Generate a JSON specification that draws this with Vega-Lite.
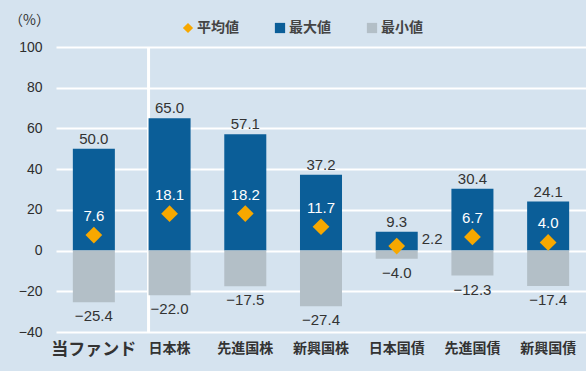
{
  "$schema": "https://vega.github.io/schema/vega-lite/v6.json",
  "width": 530,
  "height": 285,
  "autosize": {"type": "none"},
  "padding": {"left": 56, "top": 47, "right": 0, "bottom": 39},
  "background": "#d5e3ef",
  "config": {
    "view": {"stroke": null},
    "text": {"font": "Liberation Sans", "fontSize": 15}
  },
  "data": {
    "values": [
      {"cat": "当ファンド", "max": 50.0, "min": -25.4, "avg": 7.6},
      {"cat": "日本株", "max": 65.0, "min": -22.0, "avg": 18.1},
      {"cat": "先進国株", "max": 57.1, "min": -17.5, "avg": 18.2},
      {"cat": "新興国株", "max": 37.2, "min": -27.4, "avg": 11.7},
      {"cat": "日本国債", "max": 9.3, "min": -4.0, "avg": 2.2},
      {"cat": "先進国債", "max": 30.4, "min": -12.3, "avg": 6.7},
      {"cat": "新興国債", "max": 24.1, "min": -17.4, "avg": 4.0}
    ]
  },
  "encoding": {
    "x": {
      "field": "cat",
      "type": "nominal",
      "sort": null,
      "scale": {
        "domain": ["当ファンド", "日本株", "先進国株", "新興国株", "日本国債", "先進国債", "新興国債"],
        "paddingInner": 0.445,
        "paddingOuter": 0.2225
      },
      "axis": {
        "title": null,
        "domain": false,
        "ticks": false,
        "labelAngle": 0,
        "labelPadding": 9,
        "labelFont": "Noto Sans CJK JP",
        "labelFontWeight": "bold",
        "labelColor": "#333333",
        "labelFontSize": {"condition": {"test": "datum.value === '当ファンド'", "value": 17}, "value": 14}
      }
    }
  },
  "layer": [
    {
      "transform": [{"filter": "datum.cat === '日本株'"}],
      "mark": {"type": "rule", "color": "white", "strokeWidth": 3},
      "encoding": {
        "x": {"field": "cat", "type": "nominal", "bandPosition": 0},
        "y": {
          "datum": 100,
          "type": "quantitative",
          "scale": {"domain": [-40, 100], "nice": false},
          "axis": {
            "values": [-40, -20, 0, 20, 40, 60, 80, 100],
            "domain": false,
            "ticks": false,
            "grid": true,
            "gridColor": "white",
            "gridWidth": 2,
            "gridOpacity": 1,
            "labelFont": "Liberation Sans",
            "labelFontSize": 14,
            "labelColor": "#2e2e2e",
            "labelPadding": 14,
            "title": "（%）",
            "titleAngle": 0,
            "titleX": -27,
            "titleY": -27,
            "titleAlign": "center",
            "titleBaseline": "middle",
            "titleFont": "Noto Sans CJK JP",
            "titleFontSize": 14,
            "titleFontWeight": "normal",
            "titleColor": "#333333"
          }
        },
        "y2": {"datum": -40}
      }
    },
    {
      "mark": {"type": "bar"},
      "encoding": {
        "y": {"field": "max", "type": "quantitative"},
        "y2": {"datum": 0},
        "color": {
          "datum": "最大値",
          "type": "nominal",
          "scale": {"domain": ["平均値", "最大値", "最小値"], "range": ["#f7a800", "#0b5e98", "#b3bfc7"]},
          "legend": {
            "title": null,
            "orient": "none",
            "legendX": 125,
            "legendY": -26,
            "direction": "horizontal",
            "padding": 0,
            "symbolSize": 105,
            "symbolStrokeWidth": 0,
            "labelFont": "Noto Sans CJK JP",
            "labelFontWeight": "bold",
            "labelFontSize": 14,
            "labelColor": "#444444",
            "labelOffset": 2,
            "columnPadding": 34,
            "encode": {
              "symbols": {"update": {"shape": {"signal": "datum.value === '平均値' ? 'diamond' : 'square'"}}}
            }
          }
        }
      }
    },
    {
      "mark": {"type": "bar"},
      "encoding": {
        "y": {"field": "min", "type": "quantitative"},
        "y2": {"datum": 0},
        "color": {"datum": "最小値", "type": "nominal"}
      }
    },
    {
      "mark": {"type": "rule", "color": "white", "strokeWidth": 2},
      "encoding": {"y": {"datum": 0, "type": "quantitative"}}
    },
    {
      "mark": {"type": "point", "shape": "diamond", "filled": true, "size": 280, "opacity": 1},
      "encoding": {
        "y": {"field": "avg", "type": "quantitative"},
        "color": {"datum": "平均値", "type": "nominal"}
      }
    },
    {
      "mark": {"type": "text", "baseline": "alphabetic", "dy": -5, "color": "#333333"},
      "encoding": {
        "y": {"field": "max", "type": "quantitative"},
        "text": {"field": "max", "type": "quantitative", "format": ".1f"}
      }
    },
    {
      "mark": {"type": "text", "baseline": "top", "dy": 7, "color": "#333333"},
      "encoding": {
        "y": {"field": "min", "type": "quantitative"},
        "text": {"field": "min", "type": "quantitative", "format": ".1f"}
      }
    },
    {
      "transform": [{"filter": "datum.cat !== '日本国債'"}],
      "mark": {"type": "text", "baseline": "middle", "dy": -19, "color": "white"},
      "encoding": {
        "y": {"field": "avg", "type": "quantitative"},
        "text": {"field": "avg", "type": "quantitative", "format": ".1f"}
      }
    },
    {
      "transform": [{"filter": "datum.cat === '日本国債'"}],
      "mark": {"type": "text", "baseline": "middle", "align": "left", "dx": 25, "dy": -7, "color": "#333333"},
      "encoding": {
        "y": {"field": "avg", "type": "quantitative"},
        "text": {"field": "avg", "type": "quantitative", "format": ".1f"}
      }
    }
  ]
}
